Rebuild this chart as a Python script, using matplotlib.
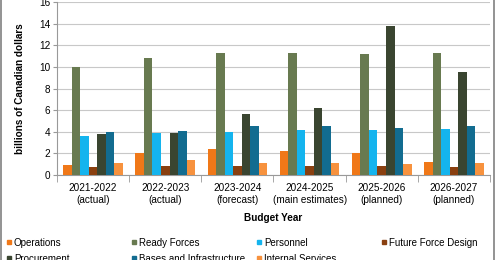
import matplotlib.pyplot as plt
import numpy as np
from matplotlib.lines import Line2D
from matplotlib.patches import Rectangle

plt.rcParams['font.family'] = ['Liberation Sans', 'DejaVu Sans']

years = ['2021-2022\n(actual)', '2022-2023\n(actual)', '2023-2024\n(forecast)',
         '2024-2025\n(main estimates)', '2025-2026\n(planned)', '2026-2027\n(planned)']
series = ['Operations', 'Ready Forces', 'Personnel', 'Future Force Design',
          'Procurement', 'Bases and Infrastructure', 'Internal Services']
operations = [0.9, 2.0, 2.4, 2.25, 2.0, 1.2]
ready_forces = [10.0, 10.8, 11.25, 11.25, 11.15, 11.25]
personnel = [3.65, 3.9, 4.0, 4.2, 4.2, 4.25]
future_force = [0.7, 0.8, 0.85, 0.85, 0.8, 0.75]
procurement = [3.75, 3.85, 5.6, 6.2, 13.75, 9.5]
bases = [3.95, 4.05, 4.55, 4.5, 4.35, 4.55]
internal = [1.1, 1.35, 1.1, 1.15, 1.05, 1.1]

colors = ['#F07818', '#687A50', '#14B4EE', '#8A4010', '#3A4530', '#126C90', '#F7923E']
values = [operations, ready_forces, personnel, future_force, procurement, bases, internal]

fig = plt.figure(figsize=(5, 2.6), dpi=100)
ax = fig.add_axes([0.114, 0.327, 0.866, 0.665])

x = np.arange(len(years))
width = 0.118
for i, (vals, c, name) in enumerate(zip(values, colors, series)):
    ax.bar(x + (i - 3) * width, vals, width, color=c, label=name, zorder=3)

ax.set_xlim(-0.5, len(years) - 0.5)
ax.set_ylim(0, 16)
ax.set_yticks(np.arange(0, 17, 2))
ax.tick_params(axis='y', labelsize=7.2, length=3, color='#999999', pad=2)
ax.set_xticks(x)
ax.set_xticklabels(years, fontsize=7.2)
ax.tick_params(axis='x', length=0, pad=6)
ax.set_xticks(np.arange(-0.5, len(years), 1), minor=True)
ax.tick_params(axis='x', which='minor', length=5, color='#999999')
ax.grid(axis='y', color='#C8C8C8', linewidth=0.8, zorder=0)
for s in ['top', 'right']:
    ax.spines[s].set_visible(False)
ax.spines['left'].set_color('#999999')
ax.spines['bottom'].set_color('#999999')

ax.set_ylabel('billions of Canadian dollars', fontsize=7.2, fontweight='bold', labelpad=10)
ax.set_xlabel('Budget Year', fontsize=7.2, fontweight='bold', labelpad=6)

# four legend columns at fixed positions, items go across the rows
col_x = [0.012, 0.262, 0.512, 0.762]
for col in range(4):
    idx = [k for k in range(len(series)) if k % 4 == col]
    handles = [Line2D([], [], marker='s', linestyle='none', color=colors[k], markersize=3.5) for k in idx]
    fig.legend(handles, [series[k] for k in idx], loc='upper left', bbox_to_anchor=(col_x[col], 0.085),
               fontsize=7, frameon=False, handlelength=0.6, handletextpad=0.2,
               borderaxespad=0, borderpad=0, labelspacing=0.6)

fig.patches.append(Rectangle((0.001, -0.01), 0.987, 1.02, transform=fig.transFigure,
                             fill=False, edgecolor='#808080', linewidth=1.2))

fig.savefig('out.png', dpi=100)
